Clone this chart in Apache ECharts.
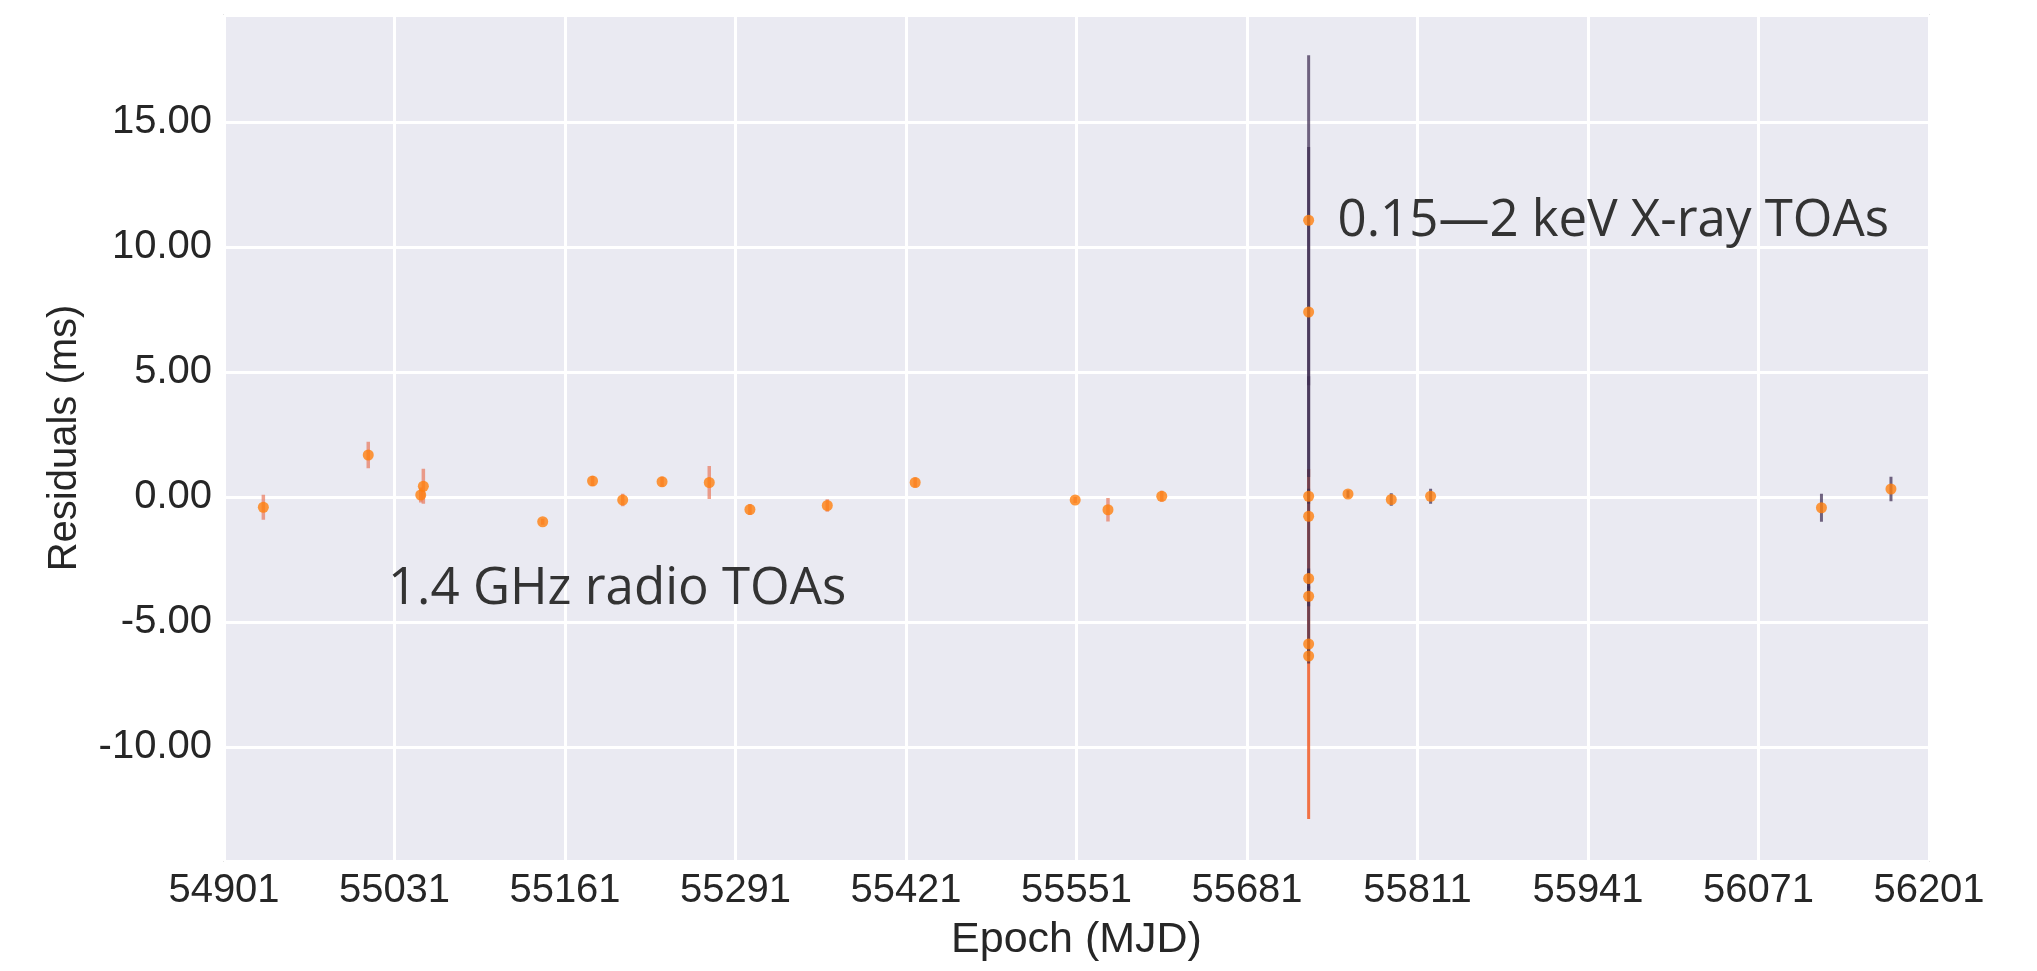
<!DOCTYPE html>
<html>
<head>
<meta charset="utf-8">
<script src="https://cdn.jsdelivr.net/npm/echarts@6/dist/echarts.min.js"></script>
<style>
html,body{margin:0;padding:0;background:#ffffff;}
#chart{width:2037px;height:971px;}
</style>
</head>
<body>
<div id="chart"></div>
<script>
// ---- Data ----
// x ticks: 54901 .. 56201 every 130 days
const xTicksStart = 54901;
const xTicksEnd = 56201;
const xTickStep = 130;

// 1.4 GHz radio TOAs
const radioMjd = [54931, 55011, 55051, 55053, 55144, 55182, 55205, 55235, 55271, 55302, 55361, 55428, 55550, 55575, 55616];
const radioRes = [-0.41, 1.68, 0.08, 0.43, -0.99, 0.64, -0.12, 0.61, 0.58, -0.50, -0.34, 0.58, -0.12, -0.51, 0.03];
const radioErr = [0.50, 0.53, 0.30, 0.70, 0.12, 0.20, 0.25, 0.20, 0.66, 0.22, 0.25, 0.20, 0.12, 0.47, 0.22];

// 0.15-2 keV X-ray TOAs (dark error bars)
const xrayMjd = [55728, 55728, 55728, 55728, 55728, 55728, 55728, 55758, 55791, 55821, 56119, 56172];
const xrayRes = [11.07, 7.40, 0.03, -0.77, -3.26, -3.97, -6.36, 0.12, -0.10, 0.03, -0.43, 0.32];
const xrayErr = [6.60, 6.60, 0.30, 5.60, 0.40, 0.40, 0.30, 0.15, 0.25, 0.30, 0.56, 0.49];

// X-ray TOA drawn with the long orange error bar
const xrayBMjd = [55728];
const xrayBRes = [-5.88];
const xrayBErr = [7.00];

// y range
const yMin = -14.56;
const yMax = 19.28;

// annotation anchors (data coords of the left/middle of each label)
const annoText = ['1.4 GHz radio TOAs', '0.15\u20142 keV X-ray TOAs'];
const annoMjd = [55026, 55750];
const annoRes = [-3.68, 11.04];

// ---- Build ----
function toTriples(m, r, e) { return m.map((v, i) => [v, r[i], e[i]]); }
function toPairs(m, r) { return m.map((v, i) => [v, r[i]]); }

function errRender(color, width) {
  return function (params, api) {
    const x = api.value(0), y = api.value(1), e = api.value(2);
    const p1 = api.coord([x, y + e]);
    const p2 = api.coord([x, y - e]);
    return {
      type: 'line',
      shape: { x1: p1[0], y1: p1[1], x2: p2[0], y2: p2[1] },
      style: { stroke: color, lineWidth: width }
    };
  };
}

const chart = echarts.init(document.getElementById('chart'), null, { renderer: 'canvas' });
const tickFont = 'Liberation Sans';
const MARK = '#ff7f0e';

const option = {
  animation: false,
  backgroundColor: '#ffffff',
  grid: {
    left: 224, right: 108, top: 15, bottom: 110,
    show: true, backgroundColor: '#eaeaf2', borderColor: '#cfcfcf', borderWidth: 1.5
  },
  xAxis: {
    type: 'value',
    min: xTicksStart, max: xTicksEnd, interval: xTickStep,
    name: 'Epoch (MJD)', nameLocation: 'middle', nameGap: 58,
    nameTextStyle: { fontFamily: tickFont, fontSize: 43, color: '#262626' },
    axisLine: { show: false }, axisTick: { show: false },
    axisLabel: { fontFamily: tickFont, fontSize: 40, color: '#262626', margin: 10,
      formatter: v => String(Math.round(v)) },
    splitLine: { show: true, lineStyle: { color: '#ffffff', width: 3 } }
  },
  yAxis: {
    type: 'value',
    min: yMin, max: yMax, splitNumber: 7,
    name: 'Residuals (ms)', nameLocation: 'middle', nameGap: 139, nameRotate: 90,
    nameTextStyle: { fontFamily: tickFont, fontSize: 40, color: '#262626' },
    axisLine: { show: false }, axisTick: { show: false },
    axisLabel: { fontFamily: tickFont, fontSize: 40, color: '#262626', margin: 12,
      showMinLabel: false, showMaxLabel: false,
      formatter: v => v.toFixed(2) },
    splitLine: { show: true, lineStyle: { color: '#ffffff', width: 3 } }
  },
  series: [
    { name: 'radio err', type: 'custom', renderItem: errRender('rgba(232,110,80,0.65)', 3.5),
      data: toTriples(radioMjd, radioRes, radioErr), encode: { x: 0, y: 1 }, z: 2 },
    { name: 'xray err b', type: 'custom', renderItem: errRender('rgba(242,100,50,0.9)', 3),
      data: toTriples(xrayBMjd, xrayBRes, xrayBErr), encode: { x: 0, y: 1 }, z: 2 },
    { name: 'xray err', type: 'custom', renderItem: errRender('rgba(62,44,82,0.72)', 3),
      data: toTriples(xrayMjd, xrayRes, xrayErr), encode: { x: 0, y: 1 }, z: 3 },
    { name: 'radio', type: 'scatter', symbol: 'circle', symbolSize: 11,
      itemStyle: { color: MARK }, data: toPairs(radioMjd, radioRes), z: 5 },
    { name: 'xray', type: 'scatter', symbol: 'circle', symbolSize: 11,
      itemStyle: { color: MARK }, data: toPairs(xrayMjd, xrayRes).concat(toPairs(xrayBMjd, xrayBRes)), z: 5 }
  ]
};
chart.setOption(option);

const graphics = annoText.map((t, i) => {
  const p = chart.convertToPixel({ gridIndex: 0 }, [annoMjd[i], annoRes[i]]);
  return {
    type: 'text', x: p[0], y: p[1], z: 10,
    style: { text: t, font: '51px "Open Sans"', fill: '#333333', verticalAlign: 'middle', align: 'left' }
  };
});
chart.setOption({ graphic: graphics });
</script>
</body>
</html>
